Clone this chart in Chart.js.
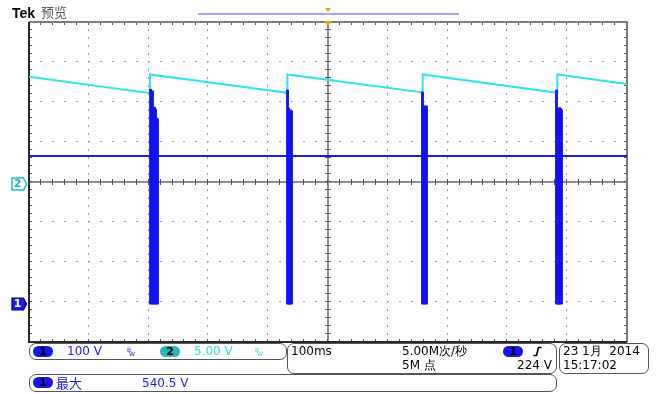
<!DOCTYPE html>
<html>
<head>
<meta charset="utf-8">
<script src="https://cdn.jsdelivr.net/npm/chart.js@4.4.1/dist/chart.umd.min.js"></script>
<style>
  html, body { margin:0; padding:0; background:#fff; }
  #wrap { position:relative; width:659px; height:394px; overflow:hidden; background:#fff; }
  #c { position:absolute; left:0; top:0; }
  .t { position:absolute; font-family:"DejaVu Sans", sans-serif; font-size:12px; line-height:14px; white-space:nowrap; }
  .box { position:absolute; border:1px solid #555; border-radius:7px; box-sizing:border-box; }
  .pill { position:absolute; width:20px; height:11px; border-radius:6px; font-family:"DejaVu Sans", sans-serif; font-size:11px; font-weight:bold; line-height:11px; text-align:center; color:#000; }
  .bw { position:absolute; font-family:"DejaVu Sans", sans-serif; font-size:6px; line-height:6px; }
  .mk { position:absolute; width:18px; height:14px; }
  .mk span { position:absolute; left:0; width:15px; top:0; height:14px; line-height:14px; text-align:center; font-family:"DejaVu Sans", sans-serif; font-size:11px; font-weight:bold; }
</style>
</head>
<body>
<div id="wrap">
  <canvas id="c" width="659" height="394"></canvas>

  <div class="t" style="left:12px; top:5px; font-family:'Liberation Sans', Arial, sans-serif; font-weight:bold; font-size:14px; line-height:16px; color:#000;">Tek</div>
  <div class="t" style="left:41px; top:4px; font-family:'Noto Sans CJK SC', sans-serif; font-size:13px; line-height:16px; color:#555;">预览</div>
  <div style="position:absolute; left:198px; top:13px; width:261px; height:2px; background:#a4a4f4;"></div>

  <!-- status boxes -->
  <div class="box" style="left:29px; top:343px; width:258px; height:17px;"></div>
  <div class="box" style="left:287px; top:343px; width:270px; height:31px;"></div>
  <div class="box" style="left:559px; top:343px; width:90px; height:31px;"></div>
  <div class="box" style="left:29px; top:374px; width:528px; height:18px;"></div>

  <div class="pill" style="left:33px; top:346px; background:#1616ea;">1</div>
  <div class="t" style="left:67px; top:343.5px; color:#2020e6;">100 V</div>
  <div class="bw" style="left:127px; top:347px; color:#2020e6;">B</div>
  <div class="bw" style="left:129px; top:351px; color:#2020e6;">W</div>
  <div class="pill" style="left:160px; top:346px; background:#26b8b8;">2</div>
  <div class="t" style="left:194px; top:343.5px; color:#30d8d8;">5.00 V</div>
  <div class="bw" style="left:255px; top:347px; color:#30d8d8;">B</div>
  <div class="bw" style="left:257px; top:351px; color:#30d8d8;">W</div>

  <div class="t" style="left:291px; top:343.5px; color:#000;">100ms</div>
  <div class="t" style="left:402px; top:343.5px; color:#000;">5.00M次/秒</div>
  <div class="t" style="left:402px; top:358px; color:#000;">5M 点</div>
  <div class="pill" style="left:503px; top:346px; background:#1616ea;">1</div>
  <svg style="position:absolute; left:0; top:0; width:659px; height:394px; pointer-events:none;">
    <path d="M533.5 355.5 H536.5 L538.5 347.5 H541.5" stroke="#000" stroke-width="1.6" fill="none"/>
  </svg>
  <div class="t" style="right:107px; top:358px; color:#000;">224 V</div>

  <div class="t" style="left:563px; top:343.5px; color:#000;">23 1月&nbsp; 2014</div>
  <div class="t" style="left:563px; top:358px; color:#000;">15:17:02</div>

  <div class="pill" style="left:33px; top:377px; background:#1616ea;">1</div>
  <div class="t" style="left:56px; top:375px; color:#2020e6; font-family:'Noto Sans CJK SC', sans-serif; font-size:13px; line-height:15px;">最大</div>
  <div class="t" style="left:142px; top:375.5px; color:#2020e6;">540.5 V</div>

  <!-- channel ground markers (positioned from scales) -->
  <div class="mk" id="mk2"><svg width="18" height="14"><polygon points="2,1 13.5,1 16.5,7 13.5,13 2,13" fill="#fff" stroke="#28c4c4" stroke-width="1.6"/></svg><span style="color:#22b4b4;">2</span></div>
  <div class="mk" id="mk1"><svg width="18" height="14"><polygon points="2,1 13.5,1 16.5,7 13.5,13 2,13" fill="#1c1ce6" stroke="#000070" stroke-width="1.2"/></svg><span style="color:#fff;">1</span></div>
</div>

<script>
// ---- data (time in ms, CH1 in V, CH2 in V) ----
const ch2Time = [0, 202.3, 202.3, 432.1, 432.1, 658.3, 658.3, 883.4, 883.4, 1000];
const ch2Volt = [13.15, 11.1, 13.45, 11.15, 13.45, 11.2, 13.45, 11.15, 13.45, 12.25];

const ch1Time = [0, 1000];
const ch1Volt = [365, 365];

// switching bursts on CH1: per screen column min/max envelope
const burstTime = [203.2, 204.8, 206.5, 208.2, 209.9, 211.5, 213.2, 214.9,
                   432.3, 434.0, 435.6, 437.3, 439.0,
                   658.0, 659.7, 661.4, 663.0, 664.7,
                   882.1, 883.8, 885.5, 887.1, 888.8, 890.5];
const burstHigh = [532, 485, 528, 487, 487, 482, 460, 458,
                   530, 485, 480, 480, 478,
                   525, 487, 490, 490, 490,
                   530, 482, 482, 486, 484, 480];
const burstLow  = [-5, -5, -5, -5, -5, -5, -5, -5,
                   -5, -5, -5, -5, -5,
                   -5, -5, -5, -5, -5,
                   -5, -5, -5, -5, -5, -5];

// screen settings
const timeRange = [0, 1000];      // 100 ms/div, 10 div
const ch1Range = [-100, 700];     // 100 V/div, ground 3 div below center
const ch2Range = [-20, 20];       // 5 V/div, ground at center
const triggerTime = 500;

const ch2Data = ch2Time.map((t, i) => ({x: t, y: ch2Volt[i]}));
const ch1Data = ch1Time.map((t, i) => ({x: t, y: ch1Volt[i]}));
const burstData = burstTime.map((t, i) => ({x: t, y: [burstLow[i], burstHigh[i]]}));

const gridPlugin = {
  id: 'scopeGrid',
  beforeDatasetsDraw(chart) {
    const {ctx, chartArea: a, scales} = chart;
    const xs = scales.x, ys = scales.y2;
    const xDiv = 100, xMinor = 20, yDiv = 5, yMinor = 1;
    const xc = Math.round(xs.getPixelForValue((timeRange[0] + timeRange[1]) / 2));
    const yc = Math.round(ys.getPixelForValue(0));
    ctx.save();
    // dotted division lines
    ctx.fillStyle = '#9c9c9c';
    for (let xv = timeRange[0] + xDiv; xv < timeRange[1] - 1; xv += xDiv) {
      const px = Math.round(xs.getPixelForValue(xv));
      if (px === xc) continue;
      for (let yv = ch2Range[0] + yMinor; yv < ch2Range[1]; yv += yMinor) {
        const py = Math.round(ys.getPixelForValue(yv));
        ctx.fillRect(px - 1, py - 1, 1, 2);
      }
    }
    for (let yv = ch2Range[0] + yDiv; yv < ch2Range[1]; yv += yDiv) {
      const py = Math.round(ys.getPixelForValue(yv));
      if (py === yc) continue;
      for (let xv = timeRange[0] + xMinor; xv < timeRange[1]; xv += xMinor) {
        const px = Math.round(xs.getPixelForValue(xv));
        ctx.fillRect(px - 1, py - 1, 2, 1);
      }
    }
    // center cross
    ctx.strokeStyle = '#8e8e8e';
    ctx.lineWidth = 2;
    ctx.beginPath();
    ctx.moveTo(a.left, yc); ctx.lineTo(a.right, yc);
    ctx.moveTo(xc, a.top); ctx.lineTo(xc, a.bottom);
    ctx.stroke();
    // ticks on center cross and frame
    ctx.strokeStyle = '#555';
    ctx.lineWidth = 1;
    ctx.beginPath();
    for (let xv = timeRange[0] + xMinor; xv < timeRange[1]; xv += xMinor) {
      const px = Math.round(xs.getPixelForValue(xv)) - 0.5;
      ctx.moveTo(px, yc - 3); ctx.lineTo(px, yc + 3);
      ctx.moveTo(px, a.top); ctx.lineTo(px, a.top + 3);
      ctx.moveTo(px, a.bottom); ctx.lineTo(px, a.bottom - 3);
    }
    for (let yv = ch2Range[0] + yMinor; yv < ch2Range[1]; yv += yMinor) {
      const py = Math.round(ys.getPixelForValue(yv)) - 0.5;
      ctx.moveTo(xc - 3, py); ctx.lineTo(xc + 3, py);
      ctx.moveTo(a.left, py); ctx.lineTo(a.left + 3, py);
      ctx.moveTo(a.right, py); ctx.lineTo(a.right - 3, py);
    }
    ctx.stroke();
    // frame
    ctx.lineWidth = 2;
    ctx.strokeStyle = '#7a7a7a';
    ctx.beginPath();
    ctx.moveTo(a.left, a.top); ctx.lineTo(a.right, a.top); ctx.lineTo(a.right, a.bottom);
    ctx.stroke();
    ctx.strokeStyle = '#2a2a2a';
    ctx.beginPath();
    ctx.moveTo(a.left, a.top); ctx.lineTo(a.left, a.bottom); ctx.lineTo(a.right, a.bottom);
    ctx.stroke();
    ctx.restore();
  },
  afterDraw(chart) {
    const {ctx, chartArea: a, scales} = chart;
    const px = Math.round(scales.x.getPixelForValue(triggerTime));
    ctx.save();
    ctx.fillStyle = '#f2a000';
    ctx.beginPath();
    ctx.moveTo(px - 4, a.top - 1); ctx.lineTo(px + 4, a.top - 1); ctx.lineTo(px, a.top + 4); ctx.closePath();
    ctx.fill();
    ctx.beginPath();
    ctx.moveTo(px - 3, 8); ctx.lineTo(px + 3, 8); ctx.lineTo(px, 12); ctx.closePath();
    ctx.fill();
    ctx.restore();
  }
};

const chart = new Chart(document.getElementById('c'), {
  type: 'line',
  data: {
    datasets: [
      { type: 'bar', label: 'CH1 burst', data: burstData, xAxisID: 'x', yAxisID: 'y1',
        backgroundColor: '#1212f2', borderWidth: 0, barThickness: 2.2, grouped: false, order: 0 },
      { label: 'CH1', data: ch1Data, xAxisID: 'x', yAxisID: 'y1', borderColor: '#1c1cf0',
        borderWidth: 2, pointRadius: 0, tension: 0, order: 1 },
      { label: 'CH2', data: ch2Data, xAxisID: 'x', yAxisID: 'y2', borderColor: '#2ee6e6',
        borderWidth: 2, pointRadius: 0, tension: 0, order: 2 }
    ]
  },
  options: {
    responsive: false,
    animation: false,
    devicePixelRatio: 1,
    events: [],
    layout: { padding: { left: 29, top: 22, right: 32, bottom: 52 } },
    plugins: { legend: { display: false }, tooltip: { enabled: false } },
    scales: {
      x: { type: 'linear', min: timeRange[0], max: timeRange[1], offset: false, display: false },
      y1: { type: 'linear', min: ch1Range[0], max: ch1Range[1], display: false },
      y2: { type: 'linear', min: ch2Range[0], max: ch2Range[1], display: false }
    }
  },
  plugins: [gridPlugin]
});

// place ground markers from the scales
const g2 = chart.scales.y2.getPixelForValue(0);
const g1 = chart.scales.y1.getPixelForValue(0);
const mk2 = document.getElementById('mk2');
const mk1 = document.getElementById('mk1');
mk2.style.left = (chart.chartArea.left - 19) + 'px';
mk2.style.top = (g2 - 5) + 'px';
mk1.style.left = (chart.chartArea.left - 19) + 'px';
mk1.style.top = (g1 - 5) + 'px';
</script>
</body>
</html>
